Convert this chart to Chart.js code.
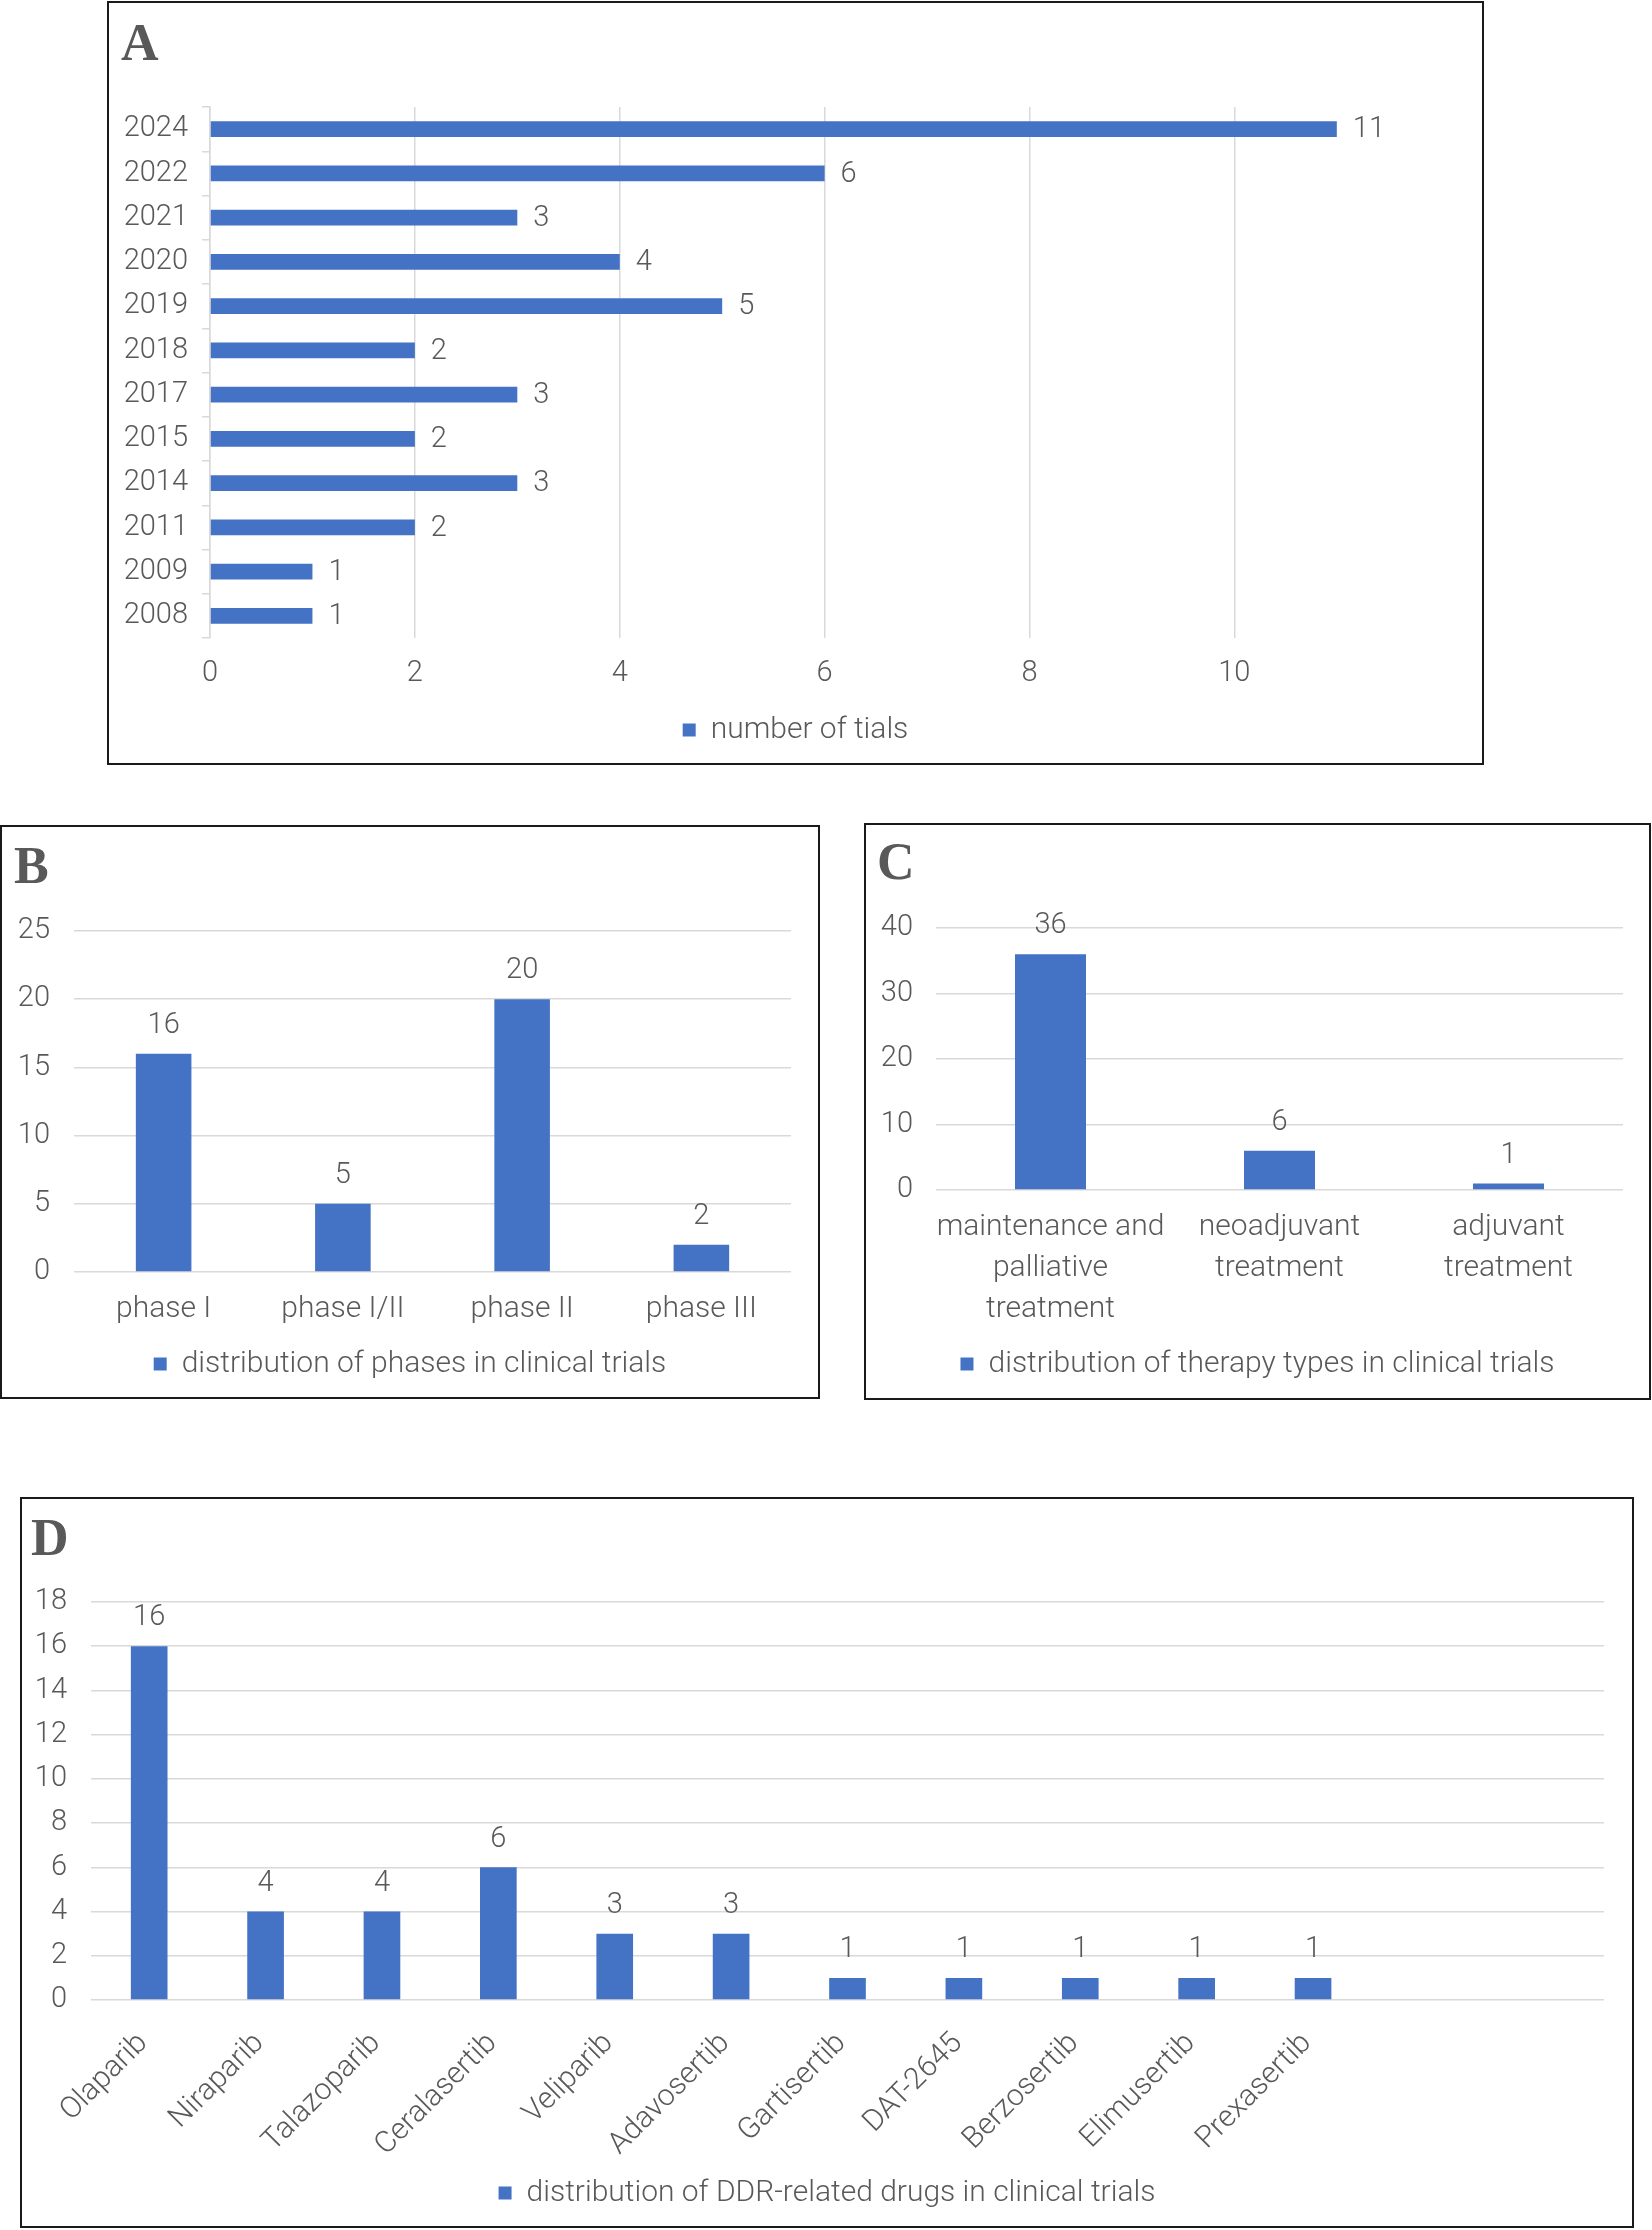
<!DOCTYPE html>
<html>
<head>
<meta charset="utf-8">
<script src="https://cdn.jsdelivr.net/npm/chart.js@4.4.1/dist/chart.umd.min.js"></script>
<style>
  body { margin: 0; width: 1652px; height: 2230px; background: #fff; position: relative; overflow: hidden; }
  .panel { position: absolute; box-sizing: border-box; border: 2px solid #1a1a1a; background: #fff; }
  .panel canvas { display: block; }
  .tag { position: absolute; font-family: 'Liberation Serif', 'DejaVu Serif', serif; font-weight: bold;
         font-size: 52px; line-height: 1; color: #595959; }
</style>
</head>
<body>

<div class="panel" style="left:107px;top:1px;width:1377px;height:764px"><canvas id="chartA" width="1373" height="760"></canvas></div>
<div class="panel" style="left:0px;top:825px;width:820px;height:574px"><canvas id="chartB" width="816" height="570"></canvas></div>
<div class="panel" style="left:864px;top:823px;width:787px;height:577px"><canvas id="chartC" width="783" height="573"></canvas></div>
<div class="panel" style="left:20px;top:1497px;width:1614px;height:731px"><canvas id="chartD" width="1610" height="727"></canvas></div>

<div class="tag" style="left:121px;top:17px">A</div>
<div class="tag" style="left:14px;top:840px">B</div>
<div class="tag" style="left:877px;top:836px">C</div>
<div class="tag" style="left:31px;top:1512px">D</div>

<script>
// --- data ---
const yearLabels = ['2024', '2022', '2021', '2020', '2019', '2018', '2017', '2015', '2014', '2011', '2009', '2008'];
const trialCounts = [11, 6, 3, 4, 5, 2, 3, 2, 3, 2, 1, 1];

const phaseLabels = ['phase I', 'phase I/II', 'phase II', 'phase III'];
const phaseCounts = [16, 5, 20, 2];

const therapyLabels = [['maintenance and', 'palliative', 'treatment'], ['neoadjuvant', 'treatment'], ['adjuvant', 'treatment']];
const therapyCounts = [36, 6, 1];

const drugLabels = ['Olaparib', 'Niraparib', 'Talazoparib', 'Ceralasertib', 'Veliparib', 'Adavosertib',
                    'Gartisertib', 'DAT-2645', 'Berzosertib', 'Elimusertib', 'Prexasertib', '', ''];
const drugCounts = [16, 4, 4, 6, 3, 3, 1, 1, 1, 1, 1, null, null];

// --- look ---
const BLUE = '#4472C4';
const GRID = '#D9D9D9';
const TEXT = '#595959';
const FONT = "Roboto, 'Noto Sans', sans-serif";
const NUM = { size: 29, weight: '300' };   // numbers on axes / bars
const WORD = { size: 30, weight: '300' };  // category names, legends

Chart.defaults.font.family = FONT;
Chart.defaults.font.size = 29;
Chart.defaults.font.weight = '300';
Chart.defaults.color = TEXT;
Chart.defaults.animation = false;

// value written next to / above every bar
const valueLabels = {
    id: 'valueLabels',
    afterDatasetsDraw(chart) {
        const ctx = chart.ctx;
        const horiz = chart.options.indexAxis === 'y';
        const values = chart.data.datasets[0].data;
        ctx.save();
        ctx.font = '300 29px ' + FONT;
        ctx.fillStyle = TEXT;
        ctx.textBaseline = 'middle';
        chart.getDatasetMeta(0).data.forEach((bar, i) => {
            if (values[i] == null) return;
            if (horiz) {
                ctx.textAlign = 'left';
                ctx.fillText(values[i], bar.x + 16, bar.y + 1);
            } else {
                ctx.textAlign = 'center';
                ctx.fillText(values[i], bar.x, bar.y - 28);
            }
        });
        ctx.restore();
    }
};

const fixW = w => scale => { scale.width = w; };
const fixH = h => scale => { scale.height = h; };

// empty axis on the right, only keeps a margin so the legend stays centred on the panel
const spacer = w => ({
    type: 'linear', position: 'right', display: true, afterFit: fixW(w),
    ticks: { display: false }, grid: { display: false }, border: { display: false }
});

const legendOpts = {
    position: 'bottom',
    labels: { boxWidth: 13, boxHeight: 13, padding: 10, color: TEXT, font: WORD }
};

function barSet(label, data, pct) {
    return {
        label: label,
        data: data,
        backgroundColor: BLUE,
        borderWidth: 0,
        barPercentage: pct,
        categoryPercentage: 1
    };
}

// A: trials per year (horizontal)
new Chart(document.getElementById('chartA'), {
    type: 'bar',
    data: { labels: yearLabels, datasets: [barSet('number of tials', trialCounts, 0.36)] },
    options: {
        responsive: false,
        indexAxis: 'y',
        layout: { padding: { top: 104, right: 0, bottom: 8, left: 0 } },
        plugins: { legend: legendOpts, tooltip: { enabled: false } },
        scales: {
            x: {
                min: 0, max: 11.9,
                afterFit: fixH(67),
                ticks: { stepSize: 2, includeBounds: false, padding: 18, font: NUM },
                grid: { color: GRID, lineWidth: 1.5, drawTicks: false },
                border: { display: false }
            },
            y: {
                afterFit: fixW(101),
                ticks: { padding: 14, font: NUM },
                grid: { offset: true, drawOnChartArea: false, drawTicks: true, tickLength: 8, color: GRID, lineWidth: 1.5 },
                border: { display: true, color: GRID, width: 1.5 }
            },
            yR: spacer(53)
        }
    },
    plugins: [valueLabels]
});

// B: phases
new Chart(document.getElementById('chartB'), {
    type: 'bar',
    data: { labels: phaseLabels, datasets: [barSet('distribution of phases in clinical trials', phaseCounts, 0.31)] },
    options: {
        responsive: false,
        layout: { padding: { top: 104, right: 0, bottom: 8, left: 0 } },
        plugins: { legend: legendOpts, tooltip: { enabled: false } },
        scales: {
            x: {
                afterFit: fixH(67),
                ticks: { padding: 11, maxRotation: 0, font: WORD },
                grid: { display: false },
                border: { display: false }
            },
            y: {
                min: 0, max: 25,
                afterFit: fixW(72),
                ticks: { stepSize: 5, padding: 24, font: NUM },
                grid: { color: GRID, lineWidth: 1.5, drawTicks: false },
                border: { display: false }
            },
            yR: spacer(27)
        }
    },
    plugins: [valueLabels]
});

// C: therapy types
new Chart(document.getElementById('chartC'), {
    type: 'bar',
    data: { labels: therapyLabels, datasets: [barSet('distribution of therapy types in clinical trials', therapyCounts, 0.31)] },
    options: {
        responsive: false,
        layout: { padding: { top: 103, right: 0, bottom: 9, left: 0 } },
        plugins: { legend: legendOpts, tooltip: { enabled: false } },
        scales: {
            x: {
                afterFit: fixH(149),
                ticks: { padding: 9, minRotation: 0, maxRotation: 0, autoSkip: false,
                         font: { size: 30, weight: '300', lineHeight: 1.37 } },
                grid: { display: false },
                border: { display: false }
            },
            y: {
                min: 0, max: 40,
                afterFit: fixW(70),
                ticks: { stepSize: 10, padding: 23, font: NUM },
                grid: { color: GRID, lineWidth: 1.5, drawTicks: false },
                border: { display: false }
            },
            yR: spacer(26)
        }
    },
    plugins: [valueLabels]
});

// D: drugs
new Chart(document.getElementById('chartD'), {
    type: 'bar',
    data: { labels: drugLabels, datasets: [barSet('distribution of DDR-related drugs in clinical trials', drugCounts, 0.315)] },
    options: {
        responsive: false,
        layout: { padding: { top: 103, right: 0, bottom: 8, left: 0 } },
        plugins: { legend: legendOpts, tooltip: { enabled: false } },
        scales: {
            x: {
                afterFit: fixH(168),
                ticks: { padding: 18, labelOffset: -6, minRotation: 45, maxRotation: 45, autoSkip: false, font: WORD },
                grid: { display: false },
                border: { display: false }
            },
            y: {
                min: 0, max: 18,
                afterFit: fixW(69),
                ticks: { stepSize: 2, padding: 24, font: NUM },
                grid: { color: GRID, lineWidth: 1.5, drawTicks: false },
                border: { display: false }
            },
            yR: spacer(28)
        }
    },
    plugins: [valueLabels]
});
</script>
</body>
</html>
